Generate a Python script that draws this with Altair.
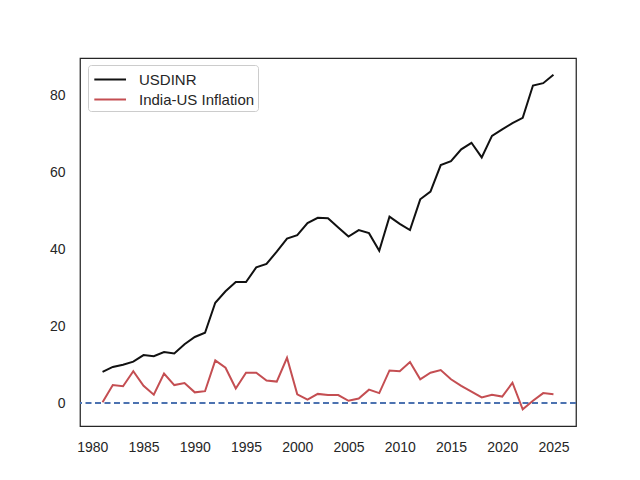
import altair as alt
import pandas as pd

years = list(range(1981, 2026))
usdinr = [8.1, 9.4, 10.0, 10.8, 12.5, 12.2, 13.3, 12.9, 15.3, 17.2,
          18.3, 26.1, 29.1, 31.5, 31.5, 35.3, 36.2, 39.4, 42.8, 43.7,
          46.8, 48.2, 48.1, 45.7, 43.3, 45.0, 44.2, 39.6, 48.5, 46.6,
          45.0, 53.0, 55.0, 61.9, 62.9, 66.0, 67.7, 63.9, 69.5, 71.2,
          72.8, 74.2, 82.6, 83.2, 85.4]
inflation = [0.2, 4.7, 4.4, 8.3, 4.5, 2.2, 7.7, 4.7, 5.2, 2.8,
             3.1, 11.1, 9.2, 3.8, 7.9, 7.9, 5.9, 5.6, 11.8, 2.3,
             0.9, 2.4, 2.1, 2.1, 0.6, 1.2, 3.5, 2.6, 8.5, 8.3,
             10.7, 6.2, 7.9, 8.6, 6.2, 4.5, 3.0, 1.5, 2.2, 1.7,
             5.3, -1.6, 0.6, 2.6, 2.3]
series_names = ["USDINR", "India-US Inflation"]
series_colors = ["#111111", "#c44e52"]
x_ticks = [1980, 1985, 1990, 1995, 2000, 2005, 2010, 2015, 2020, 2025]
y_ticks = [0, 20, 40, 60, 80]

df = pd.DataFrame({"Year": years, "USDINR": usdinr, "India-US Inflation": inflation})
long = df.melt("Year", var_name="Series", value_name="Value")
zero = pd.DataFrame({"y": [0]})

xscale = alt.Scale(domain=[1978.8, 2027.2], nice=False, zero=False)
yscale = alt.Scale(domain=[-5.95, 89.75], nice=False, zero=False)

lines = alt.Chart(long).mark_line(strokeWidth=2).encode(
    x=alt.X("Year:Q", scale=xscale,
            axis=alt.Axis(values=x_ticks, format="d", title=None, grid=False,
                          ticks=False, labelPadding=14, domain=False)),
    y=alt.Y("Value:Q", scale=yscale,
            axis=alt.Axis(values=y_ticks, title=None, grid=False,
                          ticks=False, labelPadding=15, domain=False)),
    color=alt.Color("Series:N",
                    scale=alt.Scale(domain=series_names, range=series_colors),
                    sort=series_names,
                    legend=alt.Legend(title=None, orient="none", legendX=8, legendY=7,
                                      symbolType="M-0.78,0H2.24", symbolSize=441,
                                      symbolStrokeWidth=2, labelFontSize=15,
                                      labelFont="Liberation Sans", labelColor="#262626",
                                      rowPadding=0, padding=3, labelOffset=25,
                                      strokeColor="#cccccc", fillColor="white",
                                      cornerRadius=3, labelLimit=300)),
    detail="Series:N",
)

rule = alt.Chart(zero).mark_rule(color="#4c72b0", strokeWidth=2, strokeDash=[6, 3.5]).encode(
    y=alt.Y("y:Q", scale=yscale)
)

chart = alt.layer(rule, lines).properties(
    width=496, height=368,
    autosize=alt.AutoSizeParams(type="none"),
    padding={"left": 72, "top": 50, "right": 56, "bottom": 46},
).configure_view(
    stroke="#262626", strokeWidth=1.25
).configure_axis(
    labelFont="Liberation Sans", labelFontSize=14, labelColor="#262626"
)

chart.save("out.html", embed_options={"renderer": "svg", "actions": False})
